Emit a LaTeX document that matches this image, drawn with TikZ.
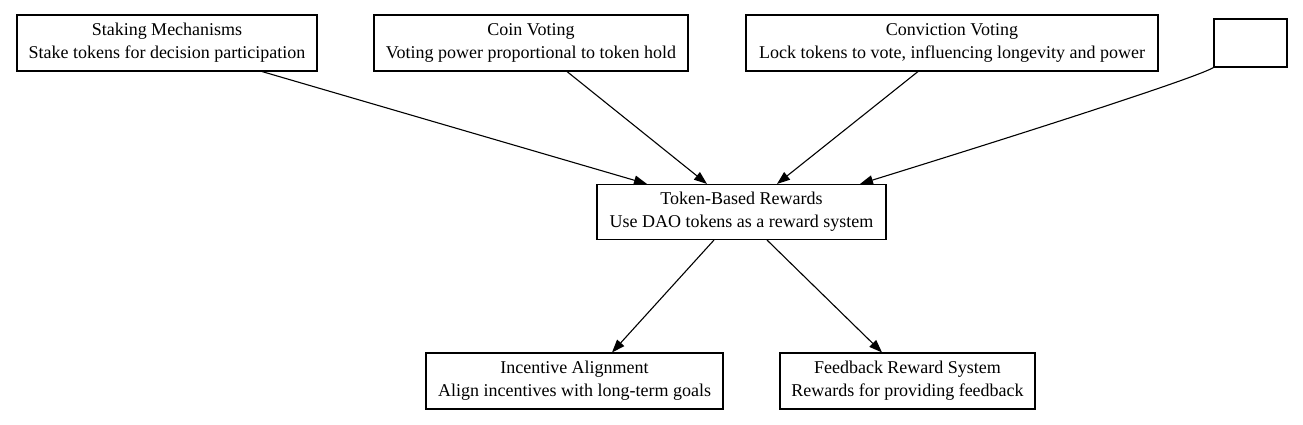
\documentclass[tikz,border=0pt]{standalone}
\usepackage{fontspec}
\setmainfont{Liberation Serif}
\usetikzlibrary{arrows.meta}
\begin{document}
\begin{tikzpicture}[x=1pt,y=-1pt,
  box/.style={draw,line width=1.1pt,inner sep=0pt,align=center,
    font=\fontsize{18}{23}\selectfont},
  edge/.style={line width=1.1pt,-{Triangle[length=13pt,width=9.5pt]}}]
\useasboundingbox (0,0) rectangle (1303,425);
\node[box,minimum width=300pt,minimum height=56pt] (s) at (167,43)
  {Staking Mechanisms\\Stake tokens for decision participation};
\node[box,minimum width=314pt,minimum height=56pt] (c) at (531,43)
  {Coin Voting\\Voting power proportional to token hold};
\node[box,minimum width=412pt,minimum height=56pt] (v) at (952,43)
  {Conviction Voting\\Lock tokens to vote, influencing longevity and power};
\node[box,minimum width=73pt,minimum height=48pt] (e) at (1250.5,43) {};
\node[box,minimum width=289pt,minimum height=55pt] (t) at (741.5,212)
  {Token-Based Rewards\\Use DAO tokens as a reward system};
\node[box,minimum width=297pt,minimum height=56pt] (i) at (574.5,381)
  {Incentive Alignment\\Align incentives with long-term goals};
\node[box,minimum width=255pt,minimum height=56pt] (f) at (907.5,381)
  {Feedback Reward System\\Rewards for providing feedback};
\draw[edge] ([xshift=95pt]s.south) -- ([xshift=-94.5pt]t.north);
\draw[edge] ([xshift=36pt]c.south) -- ([xshift=-34.5pt]t.north);
\draw[edge] ([xshift=-34pt]v.south) -- ([xshift=35.5pt]t.north);
\draw[edge] (e.south west) .. controls +(-15,9) and +(200,-62) .. ([xshift=118.5pt]t.north);
\draw[edge] ([xshift=-27.5pt]t.south) -- ([xshift=37.5pt]i.north);
\draw[edge] ([xshift=25.5pt]t.south) -- ([xshift=-25.5pt]f.north);
\end{tikzpicture}
\end{document}
